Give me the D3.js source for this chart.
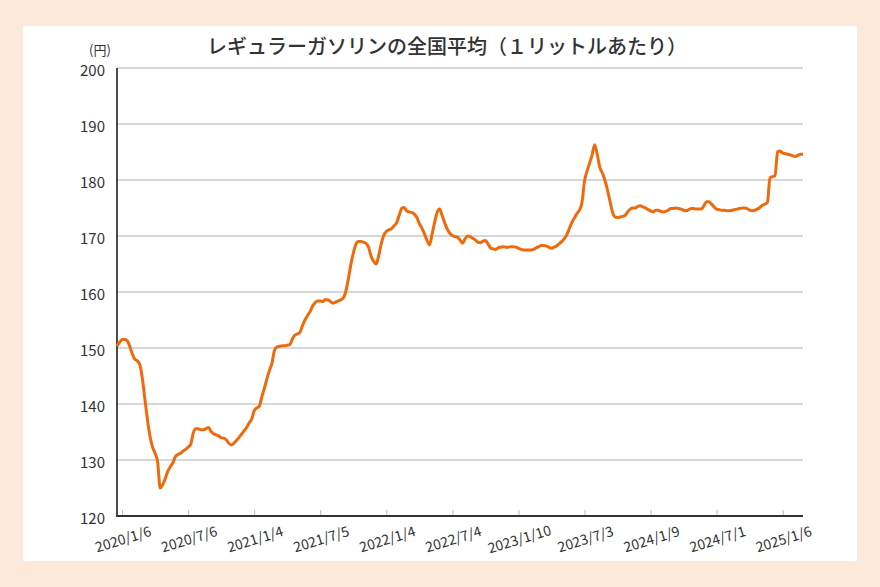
<!DOCTYPE html>
<html>
<head>
<meta charset="utf-8">
<script src="https://cdn.jsdelivr.net/npm/d3@7"></script>
<style>
  body { margin: 0; background: #fde8dc; }
  svg { display: block; font-family: "Noto Sans CJK JP", "Noto Sans", sans-serif; }
</style>
</head>
<body>
<div id="container"></div>
<script>
let w = 880;
let h = 587;

// weekly prices (yen / litre)
let prices = [
  150.3, 151.0, 151.5, 151.5, 151.3, 150.3, 149.0, 148.0, 147.7, 147.0,
  144.5, 140.8, 137.2, 134.2, 132.3, 131.2, 129.6, 125.0, 125.6, 126.7,
  128.0, 128.8, 129.5, 130.6, 131.0, 131.2, 131.6, 131.9, 132.3, 132.8,
  134.8, 135.6, 135.6, 135.4, 135.4, 135.6, 135.8, 135.1, 134.7, 134.5,
  134.3, 134.0, 133.9, 133.6, 133.0, 132.7, 133.0, 133.5, 134.0, 134.6,
  135.2, 135.8, 136.6, 137.3, 138.8, 139.3, 139.6, 141.3, 142.8, 144.5,
  146.0, 147.3, 149.6, 150.2, 150.3, 150.4, 150.4, 150.5, 150.6, 151.6,
  152.3, 152.5, 152.8, 154.0, 155.0, 155.8, 156.5, 157.5, 158.1, 158.4,
  158.4, 158.3, 158.6, 158.6, 158.3, 158.0, 158.2, 158.4, 158.6, 158.9,
  160.0, 162.2, 164.8, 166.9, 168.5, 169.0, 169.0, 168.9, 168.7, 168.0,
  166.4, 165.5, 165.0, 166.5, 168.6, 170.1, 170.8, 171.1, 171.3, 171.8,
  172.3, 173.6, 174.9, 175.1, 174.5, 174.3, 174.2, 173.9, 173.3, 172.2,
  171.4, 170.4, 169.2, 168.4, 170.3, 172.4, 174.2, 174.8, 173.6, 172.3,
  171.2, 170.5, 170.1, 169.9, 169.8, 169.3, 168.7, 169.5, 170.0, 169.9,
  169.6, 169.3, 168.9, 168.8, 169.1, 169.2, 168.6, 167.9, 167.7, 167.6,
  167.9, 168.0, 168.1, 168.0, 168.0, 168.1, 168.1, 168.0, 167.8, 167.6,
  167.5, 167.5, 167.5, 167.5, 167.6, 167.9, 168.1, 168.3, 168.3, 168.2,
  168.0, 167.8, 168.0, 168.2, 168.6, 169.0, 169.5, 170.2, 171.3, 172.4,
  173.2, 174.0, 174.6, 176.0, 179.8, 181.6, 183.0, 184.5, 186.3, 184.6,
  182.3, 181.3, 180.0, 178.3, 176.3, 174.3, 173.4, 173.3, 173.4, 173.5,
  173.7, 174.3, 174.8, 175.0, 175.0, 175.3, 175.4, 175.2, 175.0, 174.7,
  174.5, 174.3, 174.6, 174.6, 174.4, 174.3, 174.4, 174.6, 174.9, 174.9,
  175.0, 174.9, 174.8, 174.6, 174.5, 174.7, 174.9, 174.9, 174.8, 174.8,
  174.8, 175.4, 176.1, 176.1, 175.7, 175.2, 174.8, 174.7, 174.6, 174.6,
  174.5, 174.5, 174.6, 174.7, 174.8, 174.9, 175.0, 175.0, 174.9, 174.6,
  174.5, 174.6, 174.8, 175.1, 175.5, 175.7, 176.0, 180.4, 180.6, 180.8,
  185.0, 185.2, 184.8, 184.7, 184.6, 184.5, 184.3, 184.2, 184.4, 184.6,
  184.6
];

// labelled survey dates (every 26 weeks, first one is week 2)
let tickLabels = ["2020/1/6", "2020/7/6", "2021/1/4", "2021/7/5", "2022/1/4", "2022/7/4",
  "2023/1/10", "2023/7/3", "2024/1/9", "2024/7/1", "2025/1/6"];
let firstTick = 2;
let tickStep = 26;

let yTicks = [120, 130, 140, 150, 160, 170, 180, 190, 200];
let title = "レギュラーガソリンの全国平均（１リットルあたり）";
let unit = "(円)";

let plotLeft = 117, plotRight = 803, plotTop = 68, plotBottom = 516;

let viz = d3.select("#container")
  .append("svg")
    .attr("width", w)
    .attr("height", h);

viz.append("rect")
  .attr("width", w).attr("height", h)
  .attr("fill", "#fde8dc");

// white panel
viz.append("rect")
  .attr("x", 23).attr("y", 26)
  .attr("width", 834).attr("height", 535)
  .attr("fill", "white");

let xScale = d3.scaleLinear().domain([0, prices.length - 1]).range([plotLeft, plotRight]);
let yScale = d3.scaleLinear().domain([120, 200]).range([plotBottom, plotTop]);

// horizontal grid
viz.append("g").selectAll("line").data(yTicks.filter(d => d > 120)).enter()
  .append("line")
    .attr("x1", plotLeft).attr("x2", plotRight)
    .attr("y1", d => yScale(d)).attr("y2", d => yScale(d))
    .attr("stroke", "#cacaca")
    .attr("stroke-width", 1.6);

// y axis labels
let yAxis = d3.axisLeft(yScale).tickValues(yTicks).tickSize(0).tickPadding(12);
let yAxisGroup = viz.append("g").attr("class", "yaxis")
  .attr("transform", "translate(" + plotLeft + ",0)")
  .call(yAxis);
yAxisGroup.select(".domain").remove();
yAxisGroup.selectAll("text")
  .attr("dy", "0.9em")
  .attr("y", -6)
  .style("font-size", "15px")
  .style("font-family", "'Noto Sans CJK JP', sans-serif")
  .attr("fill", "#333");

viz.append("line")
  .attr("x1", plotLeft).attr("x2", plotLeft)
  .attr("y1", plotTop).attr("y2", plotBottom)
  .attr("stroke", "#111").attr("stroke-width", 1.5);

// x axis
let tickIdx = tickLabels.map((d, i) => firstTick + i * tickStep);
let xAxis = d3.axisBottom(xScale)
  .tickValues(tickIdx)
  .tickFormat((d, i) => tickLabels[i])
  .tickSize(0);
let xAxisGroup = viz.append("g").attr("class", "xaxis")
  .attr("transform", "translate(0," + plotBottom + ")")
  .call(xAxis);
xAxisGroup.select(".domain").remove();
xAxisGroup.selectAll("text")
  .attr("text-anchor", "middle")
  .attr("y", 0).attr("dy", 0)
  .attr("transform", "translate(2,28) rotate(-17)")
  .style("font-size", "14px")
  .style("font-family", "'Noto Sans CJK JP', sans-serif")
  .attr("fill", "#333");

xAxisGroup.selectAll(".tick").append("line")
  .attr("y1", -6).attr("y2", -1)
  .attr("stroke", "#bbb").attr("stroke-width", 1);

viz.append("line")
  .attr("x1", plotLeft - 1).attr("x2", plotRight)
  .attr("y1", plotBottom).attr("y2", plotBottom)
  .attr("stroke", "#333").attr("stroke-width", 2);

// the price line
let line = d3.line()
  .x((d, i) => xScale(i))
  .y(d => yScale(d))
  .curve(d3.curveMonotoneX);

viz.append("path")
  .datum(prices)
  .attr("d", line)
  .attr("fill", "none")
  .attr("stroke", "#ee6a0c")
  .attr("stroke-width", 3)
  .attr("stroke-linejoin", "round");

viz.append("text")
  .attr("x", 447).attr("y", 54)
  .attr("text-anchor", "middle")
  .style("font-size", "20px")
  .style("font-weight", 500)
  .attr("fill", "#333")
  .text(title);

viz.append("text")
  .attr("x", 100).attr("y", 55)
  .attr("text-anchor", "middle")
  .style("font-size", "13px")
  .attr("fill", "#333")
  .text(unit);
</script>
</body>
</html>
